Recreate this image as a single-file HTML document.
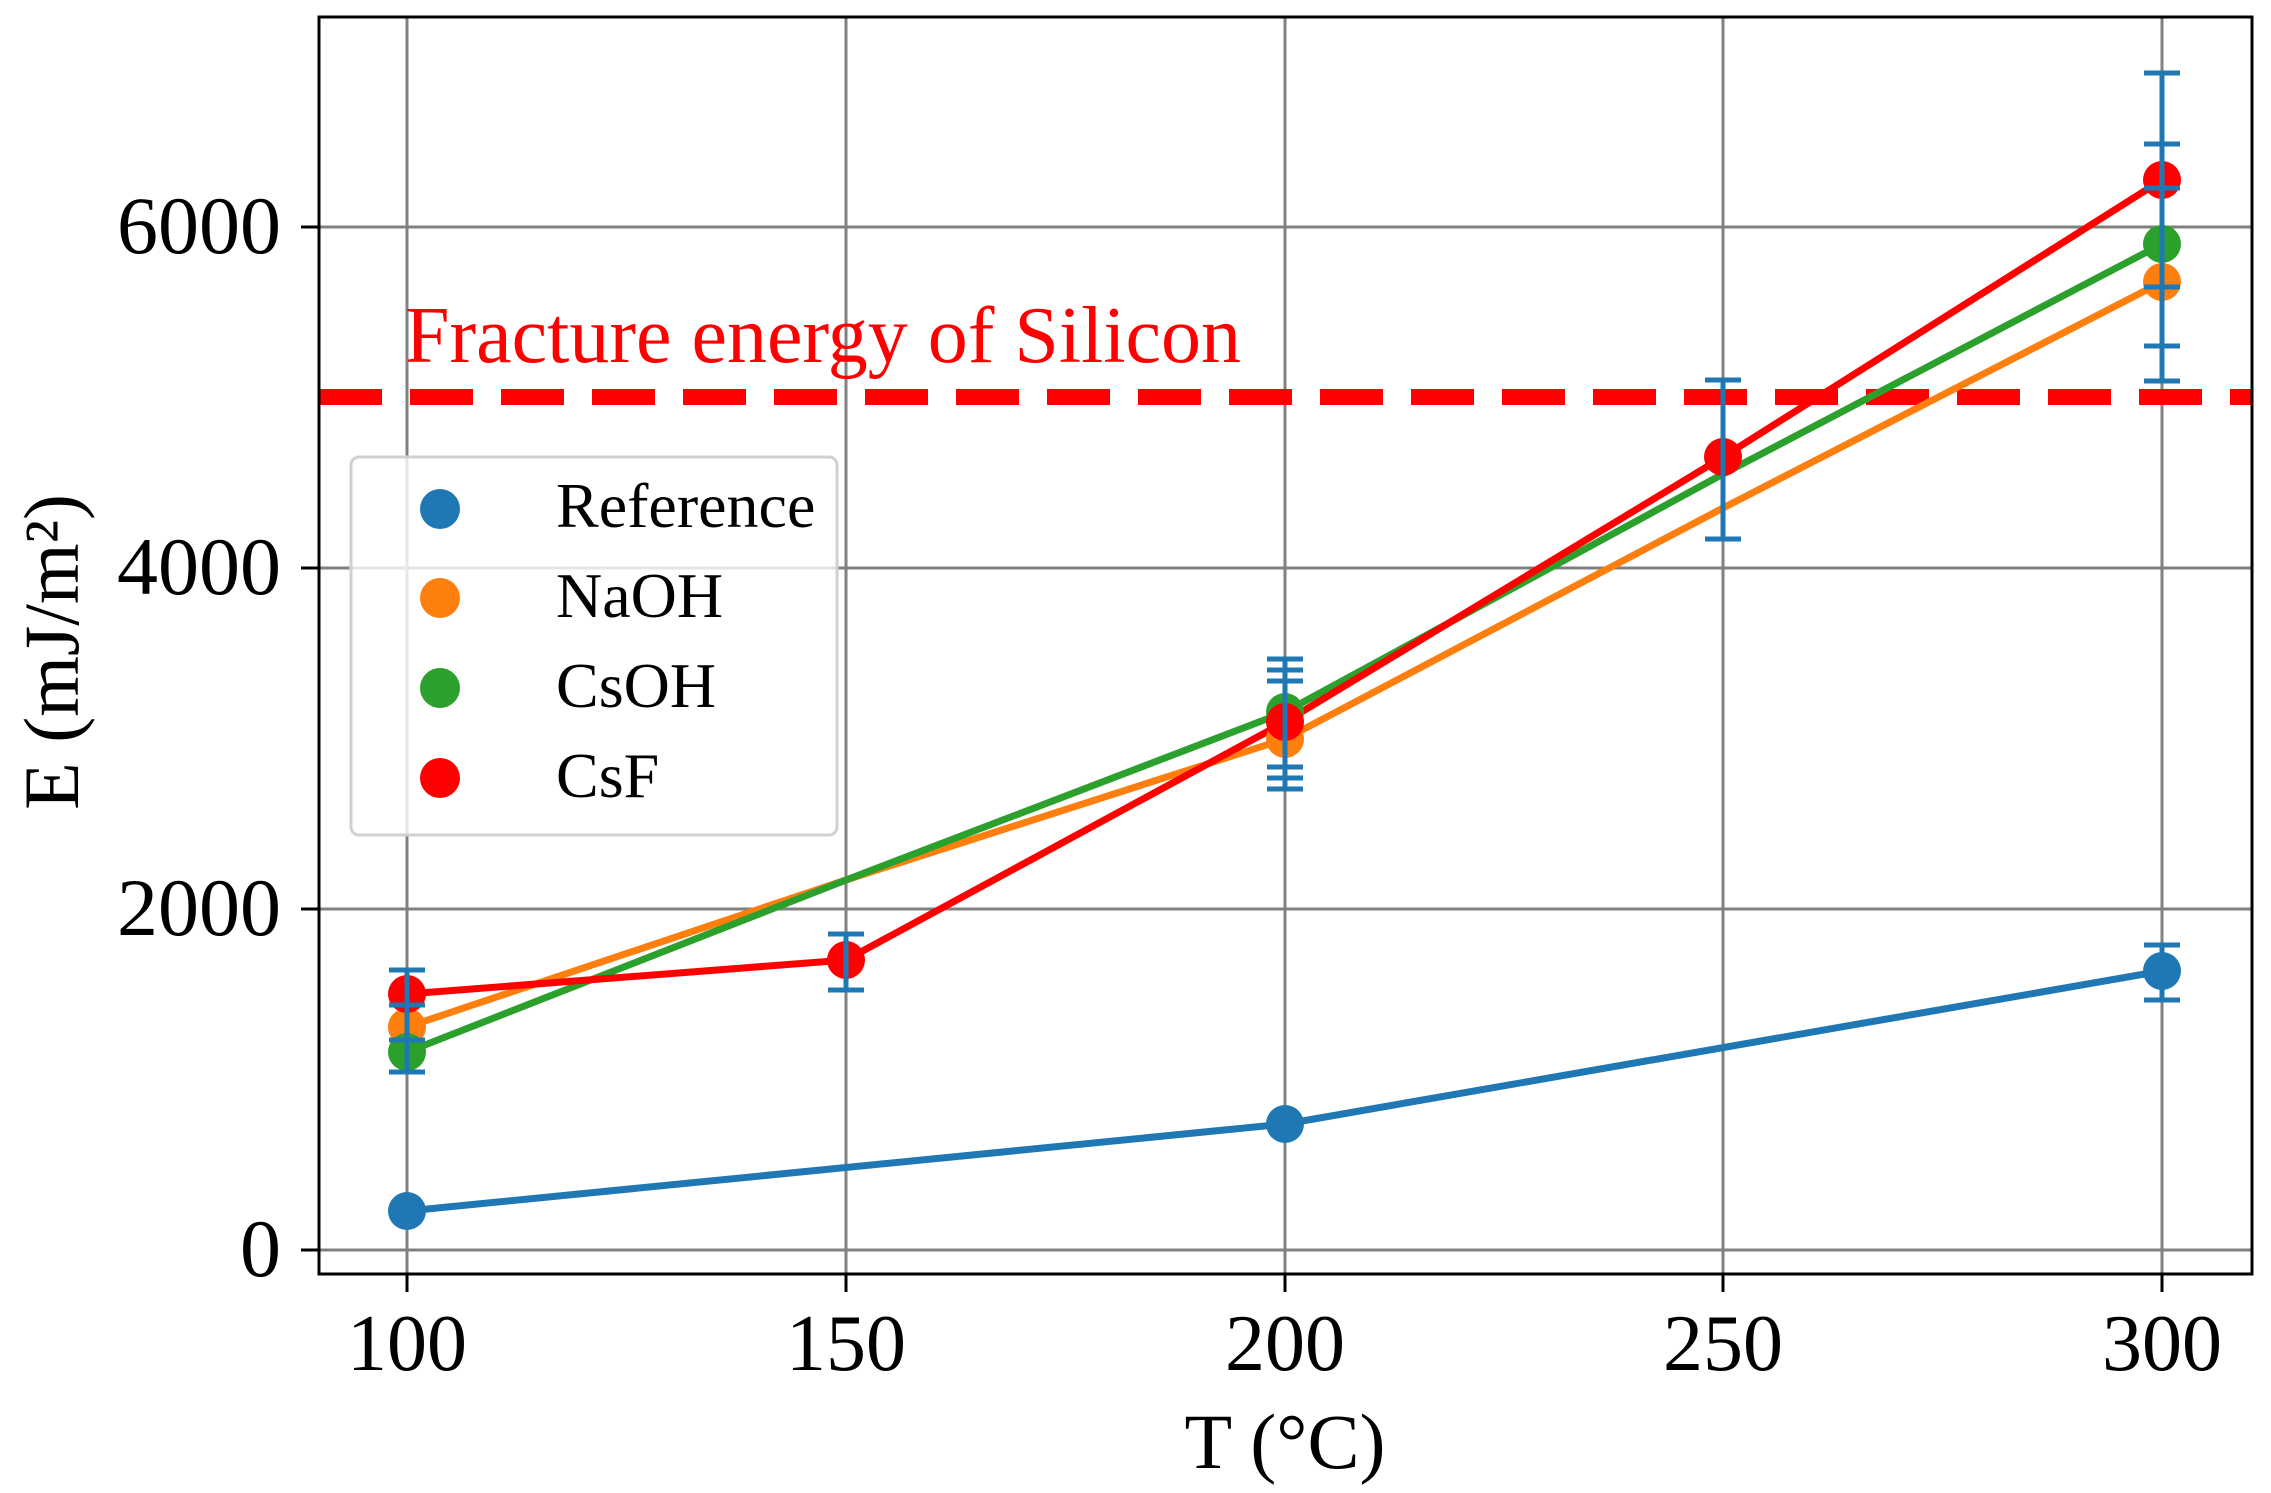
<!DOCTYPE html>
<html><head><meta charset="utf-8"><style>html,body{margin:0;padding:0;background:#fff}svg{display:block}text{font-family:"Liberation Serif",serif}</style></head><body>
<svg width="2271" height="1493" viewBox="0 0 2271 1493" xmlns="http://www.w3.org/2000/svg">
<rect width="2271" height="1493" fill="#fff"/>
<g stroke="#808080" stroke-width="3">
<line x1="407" y1="17" x2="407" y2="1274"/>
<line x1="846" y1="17" x2="846" y2="1274"/>
<line x1="1285" y1="17" x2="1285" y2="1274"/>
<line x1="1723" y1="17" x2="1723" y2="1274"/>
<line x1="2162" y1="17" x2="2162" y2="1274"/>
<line x1="319" y1="1250" x2="2252" y2="1250"/>
<line x1="319" y1="909" x2="2252" y2="909"/>
<line x1="319" y1="568" x2="2252" y2="568"/>
<line x1="319" y1="227" x2="2252" y2="227"/>
</g>
<line x1="319" y1="397" x2="2252" y2="397" stroke="#ff0000" stroke-width="16" stroke-dasharray="63,28"/>
<text x="405" y="362" font-size="80" fill="#ff0000">Fracture energy of Silicon</text>
<g fill="none" stroke-width="7" stroke-linejoin="round">
<polyline stroke="#1f77b4" points="407,1211 1285,1124 2162,971"/>
<polyline stroke="#ff7f0e" points="407,1027 846,880 1285,739 1723,508 2162,282"/>
<polyline stroke="#2ca02c" points="407,1052 846,880 1285,712 1723,474 2162,244"/>
<polyline stroke="#ff0000" points="407,994 846,960 1285,722 1723,457 2162,180"/>
</g>
<g>
<circle cx="407" cy="1027" r="19" fill="#ff7f0e"/>
<circle cx="407" cy="1052" r="19" fill="#2ca02c"/>
<circle cx="407" cy="994" r="19" fill="#ff0000"/>
<circle cx="846" cy="960" r="19" fill="#ff0000"/>
<circle cx="1285" cy="739" r="19" fill="#ff7f0e"/>
<circle cx="1285" cy="712" r="19" fill="#2ca02c"/>
<circle cx="1285" cy="722" r="19" fill="#ff0000"/>
<circle cx="1723" cy="457" r="19" fill="#ff0000"/>
<circle cx="2162" cy="282" r="19" fill="#ff7f0e"/>
<circle cx="2162" cy="244" r="19" fill="#2ca02c"/>
<circle cx="2162" cy="180" r="19" fill="#ff0000"/>
<circle cx="407" cy="1211" r="19" fill="#1f77b4"/>
<circle cx="1285" cy="1124" r="19" fill="#1f77b4"/>
<circle cx="2162" cy="971" r="19" fill="#1f77b4"/>
</g>
<g stroke="#1f77b4" stroke-width="5">
<line x1="407" y1="970" x2="407" y2="1072"/>
<line x1="389" y1="970" x2="425" y2="970"/><line x1="389" y1="1005" x2="425" y2="1005"/><line x1="389" y1="1040" x2="425" y2="1040"/><line x1="389" y1="1072" x2="425" y2="1072"/>
<line x1="846" y1="934" x2="846" y2="990"/>
<line x1="828" y1="934" x2="864" y2="934"/><line x1="828" y1="990" x2="864" y2="990"/>
<line x1="1285" y1="659" x2="1285" y2="789"/>
<line x1="1267" y1="659" x2="1303" y2="659"/><line x1="1267" y1="670" x2="1303" y2="670"/><line x1="1267" y1="681" x2="1303" y2="681"/>
<line x1="1267" y1="767" x2="1303" y2="767"/><line x1="1267" y1="778" x2="1303" y2="778"/><line x1="1267" y1="789" x2="1303" y2="789"/>
<line x1="1723" y1="380" x2="1723" y2="539"/>
<line x1="1705" y1="380" x2="1741" y2="380"/><line x1="1705" y1="539" x2="1741" y2="539"/>
<line x1="2162" y1="73" x2="2162" y2="381"/>
<line x1="2144" y1="73" x2="2180" y2="73"/><line x1="2144" y1="144" x2="2180" y2="144"/><line x1="2144" y1="188" x2="2180" y2="188"/>
<line x1="2144" y1="287" x2="2180" y2="287"/><line x1="2144" y1="346" x2="2180" y2="346"/><line x1="2144" y1="381" x2="2180" y2="381"/>
<line x1="2162" y1="945" x2="2162" y2="1000"/>
<line x1="2144" y1="945" x2="2180" y2="945"/><line x1="2144" y1="1000" x2="2180" y2="1000"/>
</g>
<rect x="351" y="457" width="486" height="378" rx="8" fill="#fff" fill-opacity="0.8" stroke="#d0d0d0" stroke-width="3"/>
<circle cx="440" cy="509" r="20" fill="#1f77b4"/>
<circle cx="440" cy="598" r="20" fill="#ff7f0e"/>
<circle cx="440" cy="688" r="20" fill="#2ca02c"/>
<circle cx="440" cy="778" r="20" fill="#ff0000"/>
<g font-size="64" fill="#000">
<text x="556" y="527">Reference</text>
<text x="556" y="617">NaOH</text>
<text x="556" y="707">CsOH</text>
<text x="556" y="797">CsF</text>
</g>
<rect x="319" y="17" width="1933" height="1257" fill="none" stroke="#000" stroke-width="3"/>
<g stroke="#000" stroke-width="3">
<line x1="407" y1="1274" x2="407" y2="1292"/><line x1="846" y1="1274" x2="846" y2="1292"/><line x1="1285" y1="1274" x2="1285" y2="1292"/><line x1="1723" y1="1274" x2="1723" y2="1292"/><line x1="2162" y1="1274" x2="2162" y2="1292"/>
<line x1="301" y1="1250" x2="319" y2="1250"/><line x1="301" y1="909" x2="319" y2="909"/><line x1="301" y1="568" x2="319" y2="568"/><line x1="301" y1="227" x2="319" y2="227"/>
</g>
<g font-size="80" fill="#000" text-anchor="middle">
<text x="407" y="1370">100</text><text x="846" y="1370">150</text><text x="1285" y="1370">200</text><text x="1723" y="1370">250</text><text x="2162" y="1370">300</text>
</g>
<g font-size="82" fill="#000" text-anchor="end">
<text x="281" y="1276">0</text><text x="281" y="935">2000</text><text x="281" y="594">4000</text><text x="281" y="253">6000</text>
</g>
<text x="1285" y="1468" font-size="78" text-anchor="middle">T (°C)</text>
<text transform="translate(78,652) rotate(-90)" font-size="78" text-anchor="middle">E (mJ/m²)</text>
</svg>
</body></html>
